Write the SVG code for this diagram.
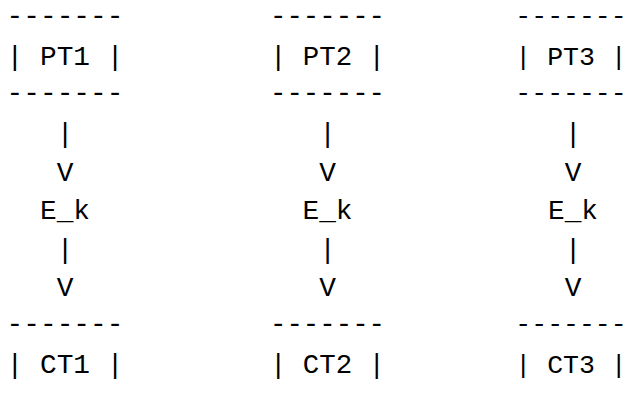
<svg xmlns="http://www.w3.org/2000/svg" width="627" height="398" viewBox="0 0 627 398">
<style>
text{font-family:"Liberation Mono","DejaVu Sans Mono",monospace;font-size:27.8px;fill:#000;text-anchor:middle;white-space:pre}
.g2 text{font-size:27.4px}
.g3 text{font-size:26.5px}
</style>
<rect width="627" height="398" fill="#fff"/>
<g id="PT1"><text x="65" y="23.5">-------</text><text x="65" y="65">| PT1 |</text><text x="65" y="100.5">-------</text></g>
<g id="PT2" class="g2"><text x="327.5" y="23.5">-------</text><text x="327.5" y="65">| PT2 |</text><text x="327.5" y="100.5">-------</text></g>
<g id="PT3" class="g3"><text x="571" y="23.5">-------</text><text x="571" y="65">| PT3 |</text><text x="571" y="100.5">-------</text></g>
<g id="connectors">
<g id="c1"><text x="65" y="142">|</text><text x="65" y="180.5">V</text><text x="65" y="219">E_k</text><text x="65" y="257.5">|</text><text x="65" y="296">V</text></g>
<g id="c2"><text x="327.5" y="142">|</text><text x="327.5" y="180.5">V</text><text x="327.5" y="219">E_k</text><text x="327.5" y="257.5">|</text><text x="327.5" y="296">V</text></g>
<g id="c3"><text x="573" y="142">|</text><text x="573" y="180.5">V</text><text x="573" y="219">E_k</text><text x="573" y="257.5">|</text><text x="573" y="296">V</text></g>
</g>
<g id="CT1"><text x="65" y="331.5">-------</text><text x="65" y="373">| CT1 |</text></g>
<g id="CT2" class="g2"><text x="327.5" y="331.5">-------</text><text x="327.5" y="373">| CT2 |</text></g>
<g id="CT3" class="g3"><text x="571" y="331.5">-------</text><text x="571" y="373">| CT3 |</text></g>
</svg>
